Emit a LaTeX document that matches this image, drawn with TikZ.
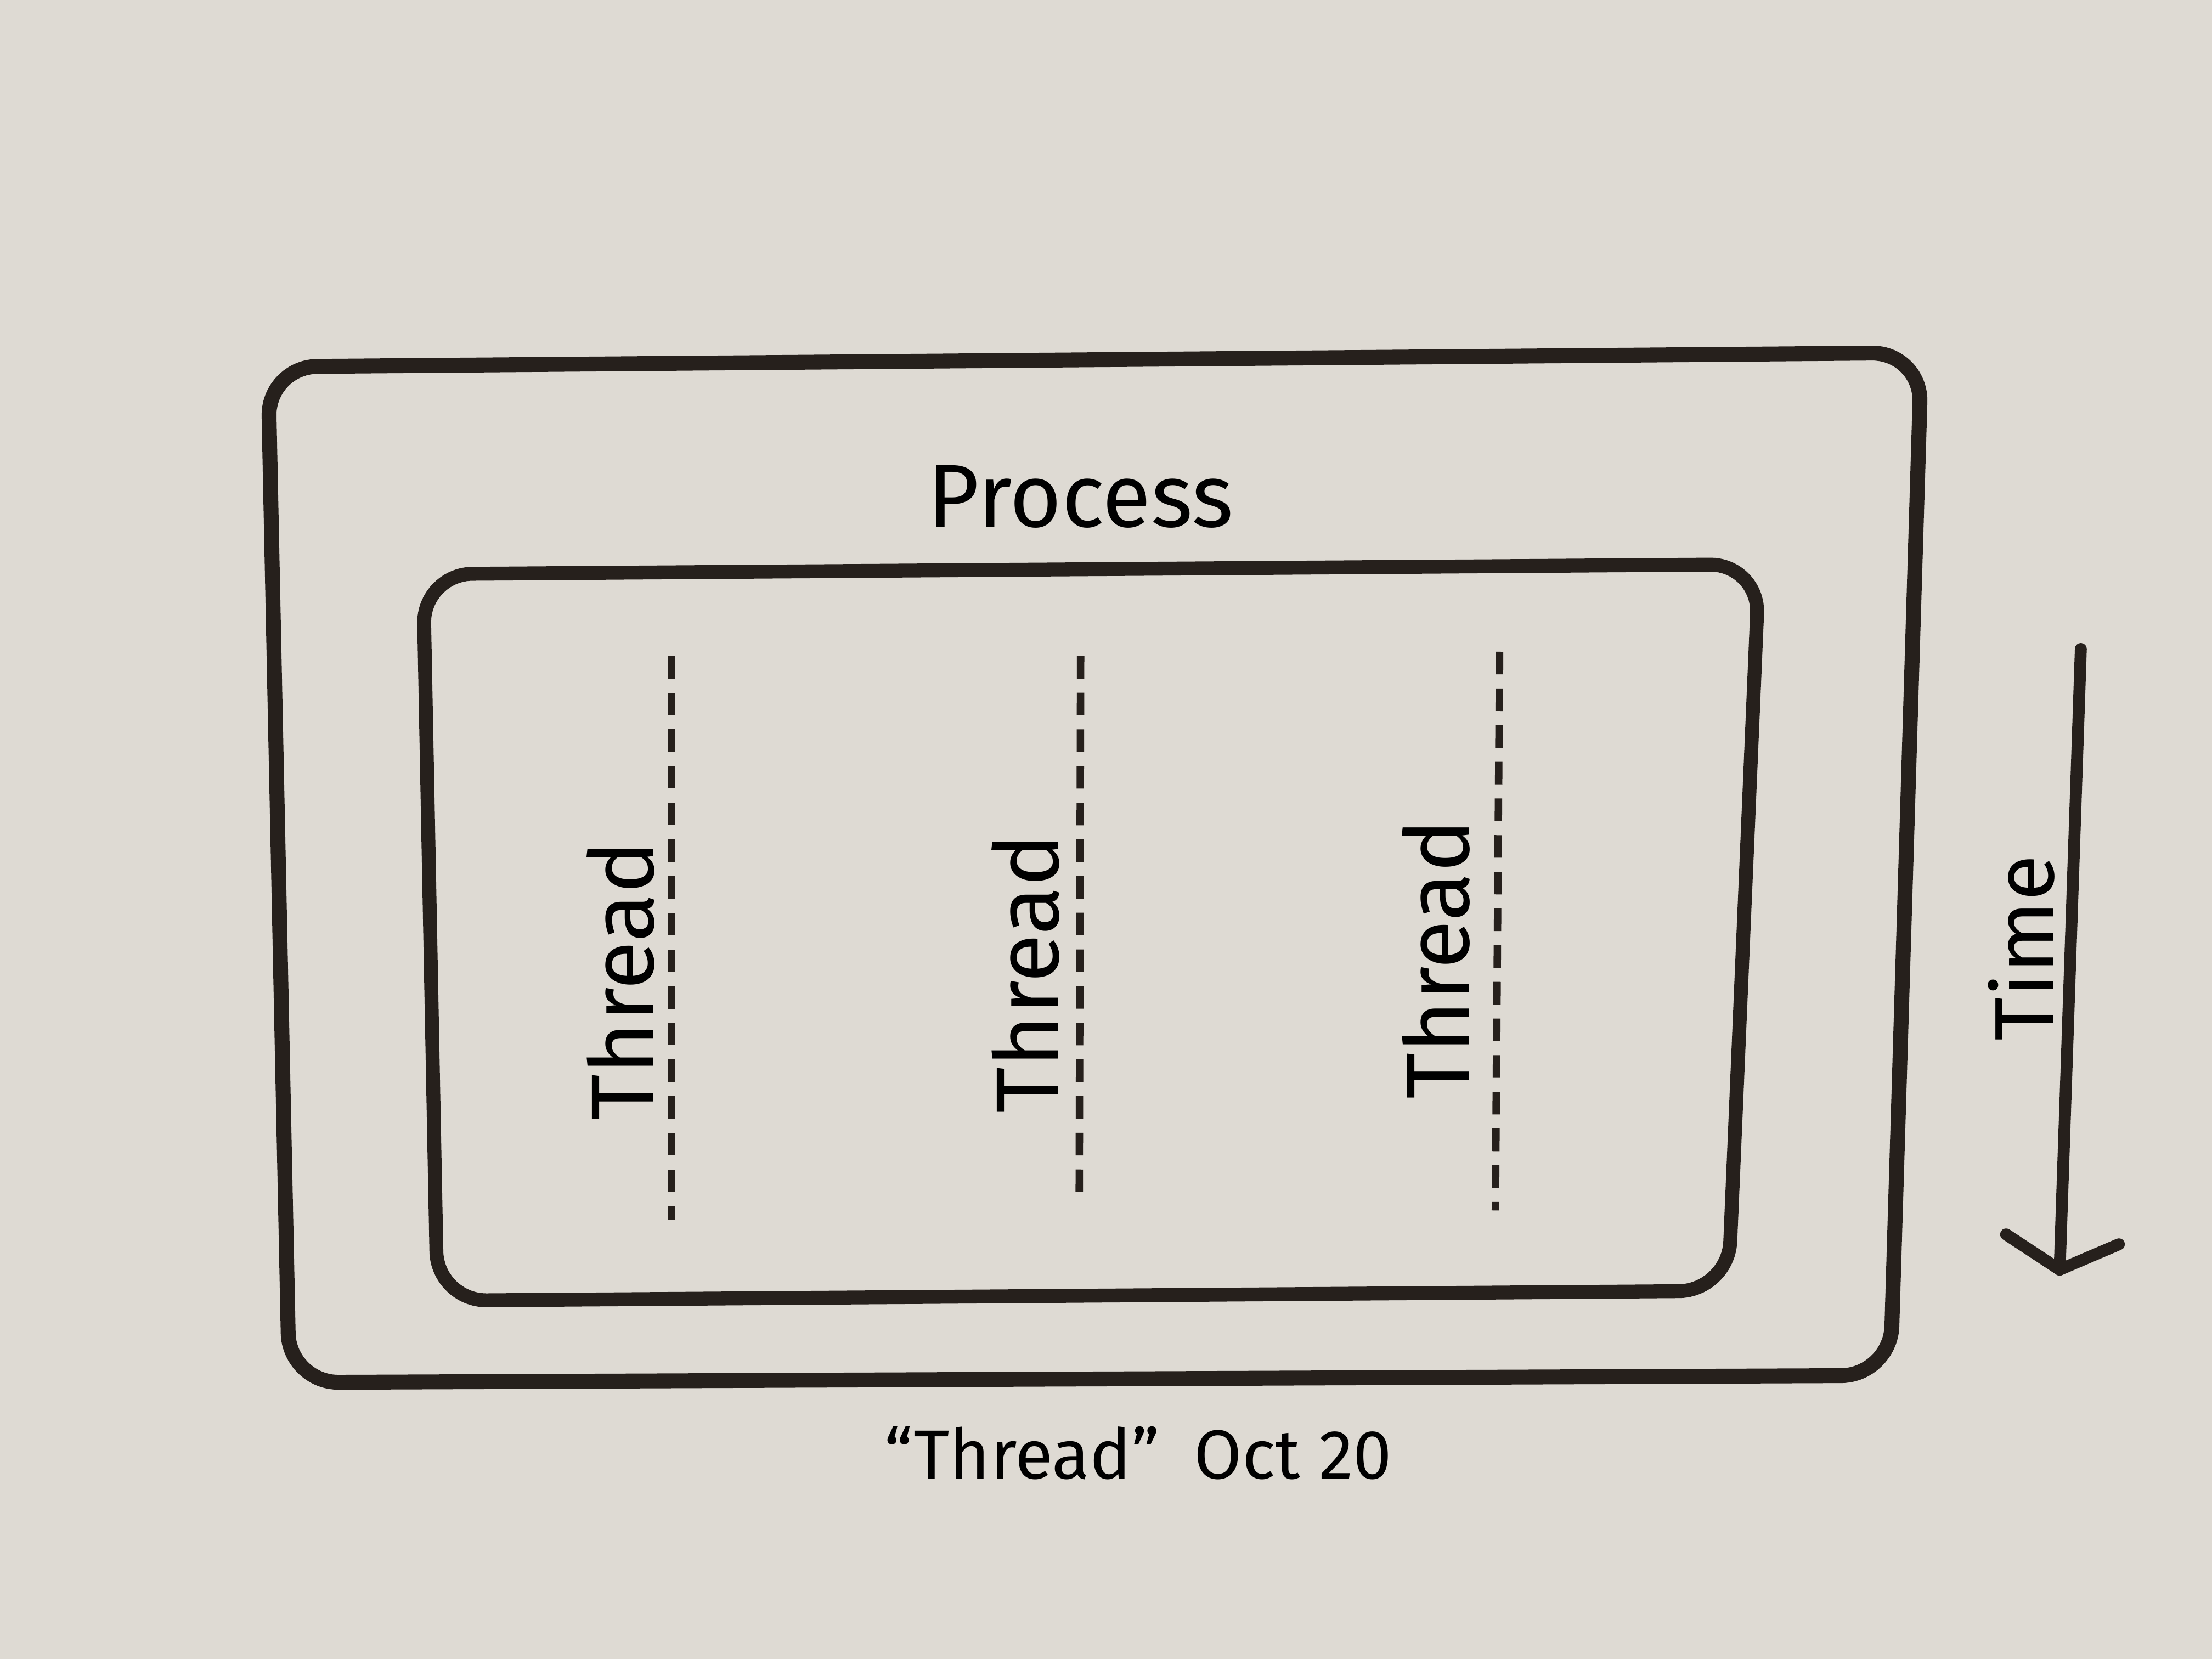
\documentclass[tikz,border=0pt]{standalone}
\usepackage{fontspec}
\setmainfont{Fira Sans}
\usetikzlibrary{calc}
\definecolor{Paper}{RGB}{222,218,211}
\definecolor{Ink}{RGB}{38,32,28}
\colorlet{BoxLine}{Ink}
\colorlet{ThreadLine}{Ink}

\begin{document}
\begin{tikzpicture}
    \fill[Paper] (0, 0) rectangle (15.68, -11.76);
    \useasboundingbox (0, 0) rectangle (15.68, -11.76);

    % Rectangulo exterior: el proceso.
    \coordinate (A) at (1.90, -2.60);
    \coordinate (B) at (13.62, -2.50);
    \coordinate (C) at (13.40, -9.75);
    \coordinate (D) at (2.05, -9.80);

    % Rectangulo interior.
    \coordinate (E) at (3.00, -4.07);
    \coordinate (F) at (12.47, -4.00);
    \coordinate (G) at (12.25, -9.15);
    \coordinate (H) at (3.10, -9.22);

    \draw [BoxLine, line width=3pt, rounded corners=0.35cm]
    (A) -- (B) -- (C) -- (D) -- cycle;
    \draw [BoxLine, line width=2.8pt, rounded corners=0.35cm]
    (E) -- (F) -- (G) -- (H) -- cycle;

    \node (process) at (7.66, -3.52) {\fontsize{18}{22}\selectfont Process};

    % Hilos.
    \coordinate (T1a) at (4.76, -4.65);
    \coordinate (T1b) at (4.76, -8.65);
    \coordinate (T2a) at (7.66, -4.65);
    \coordinate (T2b) at (7.65, -8.55);
    \coordinate (T3a) at (10.63, -4.62);
    \coordinate (T3b) at (10.60, -8.58);

    \draw [ThreadLine, line width=1.5pt, dash pattern=on 0.16cm off 0.1cm] (T1a) -- (T1b);
    \draw [ThreadLine, line width=1.5pt, dash pattern=on 0.16cm off 0.1cm] (T2a) -- (T2b);
    \draw [ThreadLine, line width=1.5pt, dash pattern=on 0.16cm off 0.1cm] (T3a) -- (T3b);

    \node (thread1) at (4.40, -6.95) [rotate=90] {\fontsize{18}{22}\selectfont Thread};
    \node (thread2) at (7.27, -6.90) [rotate=90] {\fontsize{18}{22}\selectfont Thread};
    \node (thread3) at (10.18, -6.80) [rotate=90] {\fontsize{18}{22}\selectfont Thread};

    % Eje del tiempo.
    \coordinate (timeStart) at (14.75, -4.60);
    \coordinate (timeEnd) at (14.60, -9.00);
    \coordinate (barbL) at (14.22, -8.75);
    \coordinate (barbR) at (15.02, -8.82);

    \draw [Ink, line width=2.4pt, line cap=round] (timeStart) -- (timeEnd);
    \draw [Ink, line width=2.4pt, line cap=round, line join=round] (barbL) -- (timeEnd) -- (barbR);

    \node (time) at (14.33, -6.72) [rotate=90] {\fontsize{17}{21}\selectfont Time};

    \node (caption) at (8.07, -10.30) {\fontsize{14}{18}\selectfont “Thread”\enspace Oct 20};
\end{tikzpicture}
\end{document}
